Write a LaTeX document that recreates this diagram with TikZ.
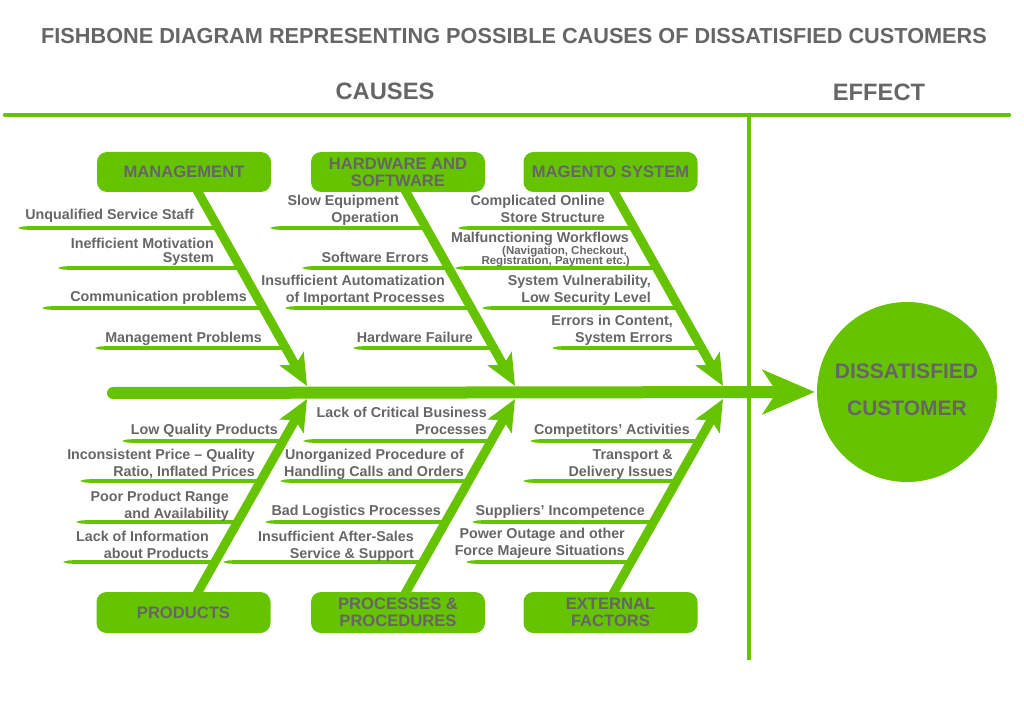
\documentclass[tikz,border=0pt]{standalone}
\usepackage{fontspec}
\setmainfont{Liberation Sans}
\usetikzlibrary{arrows.meta,calc}
\definecolor{fg}{HTML}{66C300}
\definecolor{txt}{HTML}{666666}
\newcommand\rl[1]{\vtop{\lineskiplimit=-30pt\halign{\hfil##\cr#1\crcr}}}
\newcommand\twigU[4]{%
  \pgfmathsetmacro\xr{#4+(#3-192)/194*109}%
  \coordinate (#1) at (#2,#3);
  \fill[twig] (#1) .. controls (#2+5,#3-1.8) .. (#2+16,#3-1.8) -- (\xr,#3-1.8) -- (\xr,#3+1.8) -- (#2+16,#3+1.8) .. controls (#2+5,#3+1.8) .. (#1) -- cycle;}
\newcommand\twigL[4]{%
  \pgfmathsetmacro\xr{#4+(592-#3)/193*109}%
  \coordinate (#1) at (#2,#3);
  \fill[twig] (#1) .. controls (#2+5,#3-1.8) .. (#2+16,#3-1.8) -- (\xr,#3-1.8) -- (\xr,#3+1.8) -- (#2+16,#3+1.8) .. controls (#2+5,#3+1.8) .. (#1) -- cycle;}
\begin{document}
\begin{tikzpicture}[x=1pt,y=-1pt,
  lab/.style={anchor=base east, inner sep=0pt, text=txt, font=\fontsize{14.3}{17}\selectfont\bfseries},
  small/.style={lab, font=\fontsize{11.5}{10}\selectfont\bfseries},
  box/.style={fill=fg, rounded corners=10pt, minimum width=174pt, minimum height=40pt, text=txt, align=center, inner sep=0pt, font=\fontsize{16.6}{17}\selectfont\bfseries},
  bone/.style={draw=fg, line width=9pt, -{Stealth[length=31pt,width=27pt,inset=7pt]}},
  spine/.style={draw=fg, line width=12pt, line cap=round, -{Stealth[length=52pt,width=44pt,inset=14pt]}},
  rule/.style={draw=fg, line width=4.5pt},
  twig/.style={fill=fg},
  hdr/.style={anchor=base, inner sep=0pt, text=txt, font=\fontsize{23.7}{28}\selectfont\bfseries},
  ctext/.style={anchor=base, inner sep=0pt, text=txt, font=\fontsize{21}{25}\selectfont\bfseries}]
\useasboundingbox (0,0) rectangle (1024,719);

% titles and frame lines
\node[hdr, font=\fontsize{21.7}{25}\selectfont\bfseries] (title) at (514,44) {FISHBONE DIAGRAM REPRESENTING POSSIBLE CAUSES OF DISSATISFIED CUSTOMERS};
\node[hdr] (causes) at (385,100) {CAUSES};
\node[hdr] (effect) at (879,101) {EFFECT};
\coordinate (tl) at (5,115);
\coordinate (tr) at (1009,115);
\coordinate (vt) at (748.5,113);
\coordinate (vb) at (748.5,660);
\draw[rule, line cap=round] (tl) -- (tr);
\draw[rule, line width=4pt] (vt) -- (vb);

% effect
\node[circle, fill=fg, minimum size=180pt, inner sep=0pt] (eff) at (907,392) {};
\node[ctext] (d1) at (906.5,378) {DISSATISFIED};
\node[ctext] (d2) at (907,415) {CUSTOMER};

% twigs (upper)
\twigU{t11}{18}{228}{198}
\twigU{t12}{58}{268}{198}
\twigU{t13}{42}{308}{198}
\twigU{t14}{95}{348}{198}
\twigU{t21}{270}{228}{406}
\twigU{t22}{302}{268}{406}
\twigU{t23}{285}{308}{406}
\twigU{t24}{353}{348}{406}
\twigU{t31}{458}{228}{614}
\twigU{t32}{455}{268}{614}
\twigU{t33}{482}{308}{614}
\twigU{t34}{552}{348}{614}
% twigs (lower)
\twigL{b11}{122}{441}{198}
\twigL{b12}{80}{481}{198}
\twigL{b13}{76}{522}{198}
\twigL{b14}{63}{562}{198}
\twigL{b21}{303}{441}{406}
\twigL{b22}{280}{481}{406}
\twigL{b23}{265}{522}{406}
\twigL{b24}{223}{562}{406}
\twigL{b31}{530}{441}{614}
\twigL{b32}{523}{481}{614}
\twigL{b33}{472}{522}{614}
\twigL{b34}{466}{562}{614}

% spine
\coordinate (sp0) at (113,393);
\draw[spine, shorten >=2pt] (sp0) -- (eff.west);

% bones
\coordinate (mB) at (198,192); \coordinate (mH) at (307,386);
\coordinate (hB) at (406,192); \coordinate (hH) at (515,386);
\coordinate (gB) at (614,192); \coordinate (gH) at (723,386);
\coordinate (pB) at (198,592); \coordinate (pH) at (307,399);
\coordinate (rB) at (406,592); \coordinate (rH) at (515,399);
\coordinate (eB) at (614,592); \coordinate (eH) at (723,399);
\foreach \b/\h in {mB/mH,hB/hH,gB/gH,pB/pH,rB/rH,eB/eH}
  \draw[bone] ($(\b)!-8pt!(\h)$) -- (\h);

% category boxes
\node[box] (mgmt) at (184,172) {MANAGEMENT};
\node[box] (hw) at (398,172) {HARDWARE AND\\SOFTWARE};
\node[box] (mag) at (610.5,172) {MAGENTO SYSTEM};
\node[box, minimum height=41pt] (prod) at (183.5,612.5) {PRODUCTS};
\node[box, minimum height=41pt] (proc) at (398,612.5) {PROCESSES \&\\PROCEDURES};
\node[box, minimum height=41pt] (ext) at (610.5,612.5) {EXTERNAL\\FACTORS};

% labels: management
\node[lab] (l11) at (194,219) {Unqualified Service Staff};
\node[lab] (l12) at (214,248) {\rl{Inefficient Motivation\cr\noalign{\vskip-3pt}System}};
\node[lab] (l13) at (247,301.5) {Communication problems};
\node[lab] (l14) at (262,342) {Management Problems};
% hardware and software
\node[lab] (l21) at (399,205.5) {\rl{Slow Equipment\cr Operation}};
\node[lab] (l22) at (429,262.5) {Software Errors};
\node[lab] (l23) at (445,285.5) {\rl{Insufficient Automatization\cr of Important Processes}};
\node[lab] (l24) at (473,342.5) {Hardware Failure};
% magento
\node[lab] (l31) at (605,205.5) {\rl{Complicated Online\cr Store Structure}};
\node[lab] (l32) at (629,242) {Malfunctioning Workflows};
\node[small] (l32a) at (627,254) {(Navigation, Checkout,};
\node[small] (l32b) at (630,264.5) {Registration, Payment etc.)};
\node[lab] (l33) at (651,285.5) {\rl{System Vulnerability,\cr Low Security Level}};
\node[lab] (l34) at (673,325.5) {\rl{Errors in Content,\cr System Errors}};
% products
\node[lab] (m11) at (278,434.5) {Low Quality Products};
\node[lab] (m12) at (255,459.5) {\rl{Inconsistent Price – Quality\cr Ratio, Inflated Prices}};
\node[lab] (m13) at (229,501.5) {\rl{Poor Product Range\cr and Availability}};
\node[lab] (m14) at (209,541.5) {\rl{Lack of Information\cr about Products}};
% processes
\node[lab] (m21) at (487,417.5) {\rl{Lack of Critical Business\cr Processes}};
\node[lab] (m22) at (464,459.5) {\rl{Unorganized Procedure of\cr Handling Calls and Orders}};
\node[lab] (m23) at (441,515.5) {Bad Logistics Processes};
\node[lab] (m24) at (414,541.5) {\rl{Insufficient After-Sales\cr Service \& Support}};
% external
\node[lab] (m31) at (690,434.5) {Competitors’ Activities};
\node[lab] (m32) at (673,459.5) {\rl{Transport \&\cr Delivery Issues}};
\node[lab] (m33) at (645,515.5) {Suppliers’ Incompetence};
\node[lab] (m34) at (625,538.5) {\rl{Power Outage and other\cr Force Majeure Situations}};
\end{tikzpicture}
\end{document}
